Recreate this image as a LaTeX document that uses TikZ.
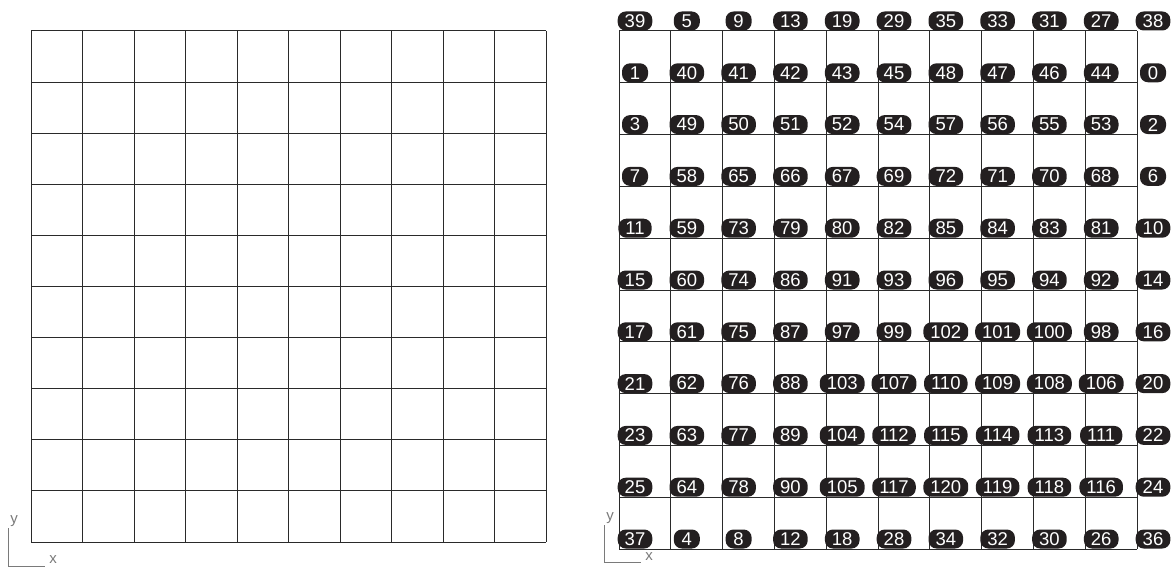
\documentclass[tikz,border=0pt]{standalone}
\usepackage{fontspec}
\setmainfont{Liberation Sans}
\usepackage{tikz}
\usetikzlibrary{positioning}
\definecolor{tagblack}{HTML}{231F20}
\definecolor{axisgray}{HTML}{7A7A7A}
\definecolor{gridgray}{HTML}{2A2A2A}

\begin{document}
\begin{tikzpicture}[x=1pt, y=-1pt,
  gridline/.style={draw=gridgray, line width=1pt},
  tag/.style={rectangle, rounded corners=8pt, fill=tagblack, text=white, minimum height=19pt, minimum width=26pt, inner xsep=7pt, inner ysep=0pt, font=\fontsize{18.5}{18.5}\selectfont},
  axisline/.style={draw=axisgray, line width=0.8pt},
  axislabel/.style={text=axisgray, inner sep=0pt, font=\fontsize{15}{15}\selectfont}
]
\useasboundingbox (0,0) rectangle (1174,567);

% left grid
\foreach \i in {0,...,10} {
  \draw[gridline] (31+51.5*\i,31) -- (31+51.5*\i,542);
  \draw[gridline] (31,31+51.1*\i) -- (546,31+51.1*\i);
}

% right grid
\foreach \i in {0,...,10} {
  \draw[gridline] (619+51.8*\i,31) -- (619+51.8*\i,549);
  \draw[gridline] (619,31+51.8*\i) -- (1137,31+51.8*\i);
}

% node numbers
\foreach \row [count=\r from 0] in {
  {39,5,9,13,19,29,35,33,31,27,38},
  {1,40,41,42,43,45,48,47,46,44,0},
  {3,49,50,51,52,54,57,56,55,53,2},
  {7,58,65,66,67,69,72,71,70,68,6},
  {11,59,73,79,80,82,85,84,83,81,10},
  {15,60,74,86,91,93,96,95,94,92,14},
  {17,61,75,87,97,99,102,101,100,98,16},
  {21,62,76,88,103,107,110,109,108,106,20},
  {23,63,77,89,104,112,115,114,113,111,22},
  {25,64,78,90,105,117,120,119,118,116,24},
  {37,4,8,12,18,28,34,32,30,26,36}} {
  \foreach \v [count=\c from 0] in \row {
    \node[tag] (t\v) at (635+51.8*\c, 21+51.8*\r) {\v};
  }
}

% axes, left
\coordinate (lo) at (8,566);
\node[axislabel] (ly) at (14,521) {y};
\node[axislabel] (lx) at (53,560) {x};
\draw[axisline] (8,528) -- (lo) -- (45,566);

% axes, right
\coordinate (ro) at (604,562);
\node[axislabel] (ry) at (610,518) {y};
\node[axislabel] (rx) at (649,557) {x};
\draw[axisline] (604,525) -- (ro) -- (641,562);
\end{tikzpicture}
\end{document}
